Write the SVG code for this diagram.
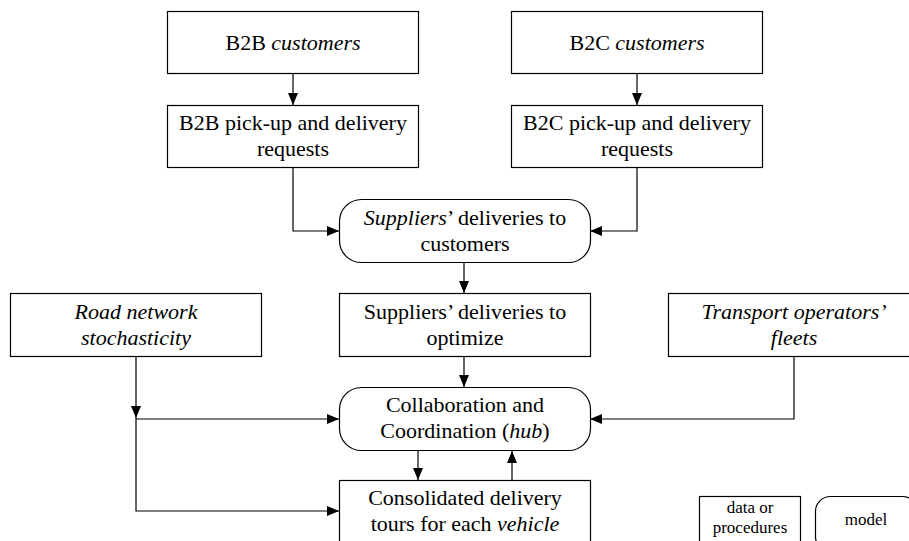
<svg xmlns="http://www.w3.org/2000/svg" width="909" height="541" viewBox="0 0 909 541">
<defs>
<marker id="ah" markerWidth="12" markerHeight="10" refX="12" refY="5" orient="auto" markerUnits="userSpaceOnUse">
<path d="M0,0 L12,5 L0,10 z" fill="#000"/>
</marker>
<style>
.box{fill:#fff;stroke:#000;stroke-width:1.2}
.t{font-family:'Liberation Serif','DejaVu Serif',serif;font-size:22px;fill:#000;text-anchor:middle}
.s{font-family:'Liberation Serif','DejaVu Serif',serif;font-size:17px;fill:#000;text-anchor:middle}
.c{fill:none;stroke:#000;stroke-width:1.2;marker-end:url(#ah)}
.i{font-style:italic}
</style>
</defs>
<rect width="909" height="541" fill="#fff"/>
<g id="connectors">
<path class="c" d="M293,74 V105"/>
<path class="c" d="M637,74 V105"/>
<path class="c" d="M293,167 V231 H339"/>
<path class="c" d="M637,167 V231 H590"/>
<path class="c" d="M464,263 V293"/>
<path class="c" d="M464,357 V387"/>
<path class="c" d="M136,357 V418"/>
<path class="c" d="M136,418 V511 H339"/>
<path class="c" d="M136,419 H339"/>
<path class="c" d="M794,357 V419 H590"/>
<path class="c" d="M418,451 V480"/>
<path class="c" d="M512,480 V451"/>
</g>
<g id="b2b-customers">
<rect class="box" x="167.5" y="11.5" width="251" height="62"/>
<text class="t" x="293" y="50">B2B <tspan class="i">customers</tspan></text>
</g>
<g id="b2c-customers">
<rect class="box" x="511.5" y="11.5" width="251" height="62"/>
<text class="t" x="637" y="50">B2C <tspan class="i">customers</tspan></text>
</g>
<g id="b2b-requests">
<rect class="box" x="167.5" y="105.5" width="251" height="62"/>
<text class="t" x="293" y="130">B2B pick-up and delivery</text>
<text class="t" x="293" y="156">requests</text>
</g>
<g id="b2c-requests">
<rect class="box" x="511.5" y="105.5" width="251" height="62"/>
<text class="t" x="637" y="130">B2C pick-up and delivery</text>
<text class="t" x="637" y="156">requests</text>
</g>
<g id="suppliers-customers">
<rect class="box" x="339.5" y="199.5" width="251" height="63" rx="22" ry="22"/>
<text class="t" x="465" y="225"><tspan class="i">Suppliers</tspan>’ deliveries to</text>
<text class="t" x="465" y="251">customers</text>
</g>
<g id="road-network">
<rect class="box" x="10.5" y="293.5" width="251" height="63"/>
<text class="t i" x="136" y="319">Road network</text>
<text class="t i" x="136" y="345">stochasticity</text>
</g>
<g id="suppliers-optimize">
<rect class="box" x="339.5" y="293.5" width="251" height="63"/>
<text class="t" x="465" y="319">Suppliers’ deliveries to</text>
<text class="t" x="465" y="345">optimize</text>
</g>
<g id="transport-fleets">
<rect class="box" x="668.5" y="293.5" width="251" height="63"/>
<text class="t i" x="794" y="319">Transport operators’</text>
<text class="t i" x="794" y="345">fleets</text>
</g>
<g id="collaboration">
<rect class="box" x="339.5" y="387.5" width="251" height="63" rx="22" ry="22"/>
<text class="t" x="465" y="412">Collaboration and</text>
<text class="t" x="465" y="438">Coordination (<tspan class="i">hub</tspan>)</text>
</g>
<g id="consolidated">
<rect class="box" x="339.5" y="480.5" width="251" height="63"/>
<text class="t" x="465" y="505">Consolidated delivery</text>
<text class="t" x="465" y="531">tours for each <tspan class="i">vehicle</tspan></text>
</g>
<g id="legend-data">
<rect class="box" x="699.5" y="496.5" width="101" height="55"/>
<text class="s" x="750" y="513">data or</text>
<text class="s" x="750" y="533">procedures</text>
</g>
<g id="legend-model">
<rect class="box" x="815.5" y="496.5" width="102" height="55" rx="15" ry="15"/>
<text class="s" x="866" y="525">model</text>
</g>
</svg>
